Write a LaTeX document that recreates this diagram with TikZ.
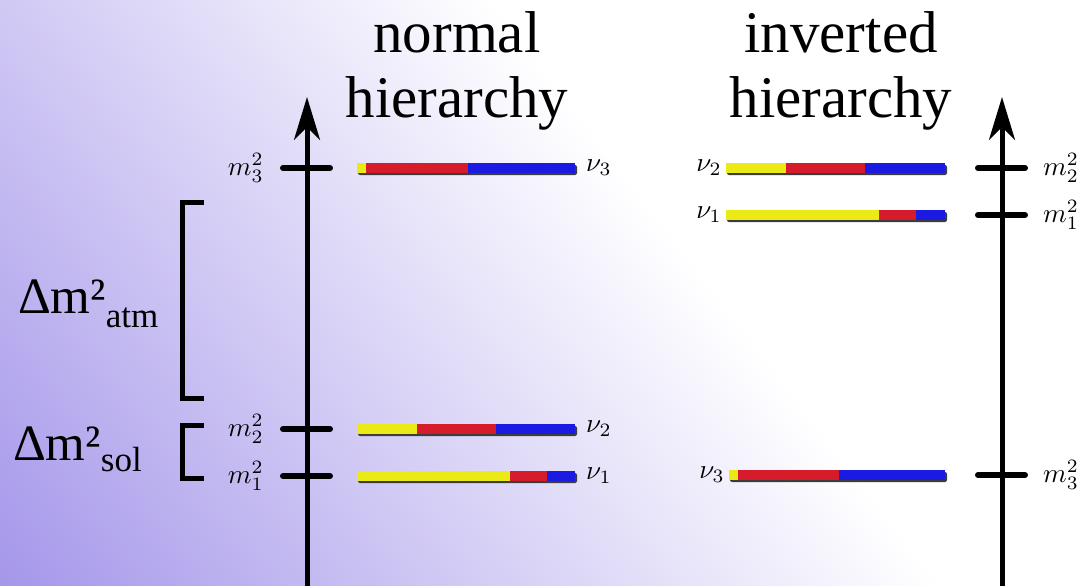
\documentclass[tikz,border=0pt]{standalone}
\usepackage{graphicx}
\usepackage{fontspec}
\setmainfont{Liberation Serif}
\usetikzlibrary{arrows.meta,positioning}
\definecolor{bgpurple}{RGB}{165,150,234}
\definecolor{mixyellow}{RGB}{236,234,22}
\definecolor{mixred}{RGB}{214,28,42}
\definecolor{mixblue}{RGB}{26,26,226}
\definecolor{barshadow}{RGB}{60,60,60}
\newcommand{\bigmath}[1]{\scalebox{2.7}{$#1$}}

\begin{document}
\begin{tikzpicture}[
    x=1pt, y=-1pt,
    axis/.style={line width=5pt, -{Stealth[length=43pt, width=26pt, inset=13pt]}},
    tick/.style={line width=6pt, line cap=round},
    bracket/.style={line width=5pt},
    masslabel/.style={font=\fontsize{10}{12}\selectfont, inner sep=0pt},
    heading/.style={font=\fontsize{59}{65}\selectfont, align=center, inner sep=0pt},
    splitting/.style={font=\fontsize{51}{60}\selectfont, inner sep=0pt, anchor=base west}
]
    \useasboundingbox (0,0) rectangle (1085,586);
    % background
    \fill[white] (0,0) rectangle (1085,586);
    \begin{scope}
        \clip (0,0) rectangle (1085,586);
        \shade[transform canvas={rotate=37.5}, left color=bgpurple, right color=white] (-360,-1400) rectangle (390,1400);
    \end{scope}

    % headings
    \node[heading] (nh) at (457,71) {normal\\hierarchy};
    \node[heading] (ih) at (841,71) {inverted\\hierarchy};

    % axes
    \coordinate (nbase) at (307,586);
    \coordinate (ntop) at (307,97);
    \coordinate (ibase) at (1002,586);
    \coordinate (itop) at (1002,97);
    \draw[axis] (nbase) -- (ntop);
    \draw[axis] (ibase) -- (itop);

    % ticks and mass labels
    \foreach \yy/\k in {168/3, 429/2, 476/1}{
        \coordinate (nt\k) at (307,\yy);
        \draw[tick] ([xshift=-24pt]nt\k) -- ([xshift=23pt]nt\k);
        \node[masslabel, left=43pt of nt\k] (nm\k) {\bigmath{m_\k^2}};
    }
    \foreach \yy/\k in {168/2, 215/1, 475/3}{
        \coordinate (it\k) at (1002,\yy);
        \draw[tick] ([xshift=-24pt]it\k) -- ([xshift=23pt]it\k);
        \node[masslabel, right=41pt of it\k] (im\k) {\bigmath{m_\k^2}};
    }

    % flavour content bars
    \foreach \yy/\xa/\xb/\xc/\xd/\nm in {168/357/366/468/575/n3, 429/357/417/496/575/n2,
        476/357/510/547/575/n1, 168/726/786/865/945/i2, 215/726/879/916/945/i1, 475/729/738/839/945/i3}{
        \coordinate (\nm-l) at (\xa,\yy);
        \coordinate (\nm-r) at (\xd,\yy);
        \fill[barshadow, rounded corners=2pt] (\xa+1,\yy-3) rectangle (\xd+2,\yy+7);
        \fill[mixyellow] (\xa,\yy-5) rectangle (\xb,\yy+5);
        \fill[mixred] (\xb,\yy-5) rectangle (\xc,\yy+5);
        \fill[mixblue] (\xc,\yy-5) rectangle (\xd,\yy+5);
    }
    \node[masslabel, right=11pt of n3-r] (nu3n) {\bigmath{\nu_3}};
    \node[masslabel, right=11pt of n2-r] (nu2n) {\bigmath{\nu_2}};
    \node[masslabel, right=11pt of n1-r] (nu1n) {\bigmath{\nu_1}};
    \node[masslabel, left=4pt of i2-l] (nu2i) {\bigmath{\nu_2}};
    \node[masslabel, left=4pt of i1-l] (nu1i) {\bigmath{\nu_1}};
    \node[masslabel, left=4pt of i3-l] (nu3i) {\bigmath{\nu_3}};

    % splittings
    \draw[bracket] (204,202) -- (182,202) -- (182,398) -- (204,398);
    \draw[bracket] (204,425) -- (182,425) -- (182,478) -- (204,478);
    \node[splitting] (atm) at (18,313) {Δm²\raisebox{-14pt}{\fontsize{35}{40}\selectfont atm}};
    \node[splitting] (sol) at (13,460) {Δm²\raisebox{-11pt}{\fontsize{35}{40}\selectfont sol}};
\end{tikzpicture}
\end{document}
